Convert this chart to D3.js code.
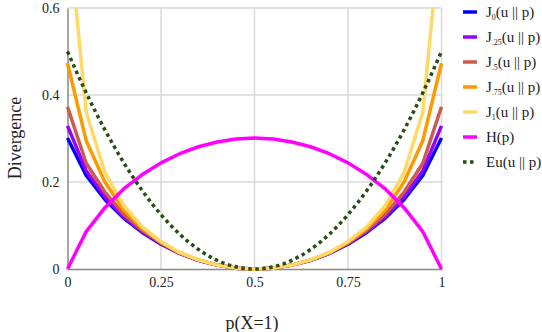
<!DOCTYPE html>
<html>
<head>
<meta charset="utf-8">
<script src="https://cdn.jsdelivr.net/npm/d3@7"></script>
<style>
  html, body { margin: 0; padding: 0; background: #fff; }
  svg { display: block; }
  text { font-family: "Liberation Serif", "Times New Roman", serif; fill: #222; }
</style>
</head>
<body>
<svg id="chart" width="542" height="332"></svg>
<script>
// ---- data ----
const pValues = [0,0.05,0.1,0.15,0.2,0.25,0.3,0.35,0.4,0.45,0.5,0.55,0.6,0.65,0.7,0.75,0.8,0.85,0.9,0.95,1];
const J0  = [0.301,0.215,0.160,0.117,0.084,0.057,0.036,0.020,0.009,0.002,0,0.002,0.009,0.020,0.036,0.057,0.084,0.117,0.160,0.215,0.301];
const J25 = [0.329,0.226,0.166,0.120,0.086,0.058,0.036,0.020,0.009,0.002,0,0.002,0.009,0.020,0.036,0.058,0.086,0.120,0.166,0.226,0.329];
const J5  = [0.373,0.243,0.177,0.126,0.089,0.060,0.037,0.020,0.009,0.002,0,0.002,0.009,0.020,0.037,0.060,0.089,0.126,0.177,0.243,0.373];
const J75 = [0.473,0.295,0.200,0.136,0.093,0.061,0.037,0.021,0.009,0.002,0,0.002,0.009,0.021,0.037,0.061,0.093,0.136,0.200,0.295,0.473];
const J1  = [0.800,0.361,0.222,0.146,0.097,0.063,0.038,0.021,0.009,0.002,0,0.002,0.009,0.021,0.038,0.063,0.097,0.146,0.222,0.361,0.800];
const H   = [0,0.086,0.141,0.184,0.217,0.244,0.265,0.281,0.292,0.299,0.301,0.299,0.292,0.281,0.265,0.244,0.217,0.184,0.141,0.086,0];
const Eu  = [0.5,0.405,0.32,0.245,0.18,0.125,0.08,0.045,0.02,0.005,0,0.005,0.02,0.045,0.08,0.125,0.18,0.245,0.32,0.405,0.5];
const xTicks = [0,0.25,0.5,0.75,1];
const xTickLabels = ["0","0.25","0.5","0.75","1"];
const yTicks = [0,0.2,0.4,0.6];
const yTickLabels = ["0","0.2","0.4","0.6"];
const seriesNames = ["J0","J25","J5","J75","J1","H","Eu"];
const legendSubs = ["0",".25",".5",".75","1"];
const xTitle = "p(X=1)";
const yTitle = "Divergence";

const seriesData = [J0,J25,J5,J75,J1,H,Eu];
const colors = ["#0000ff","#9900ff","#cc5a4f","#ff9900","#ffd966","#ff00ff","#274e13"];

const SERIF = '"Liberation Serif", "Times New Roman", serif';

// ---- layout ----
const svg = d3.select("#chart");
const m = {left: 67.5, right: 441.5, top: 8, bottom: 269};
const x = d3.scaleLinear().domain([0,1]).range([m.left, m.right]);
const y = d3.scaleLinear().domain([0,0.6]).range([m.bottom, m.top]);

// grid
const grid = svg.append("g");
grid.selectAll("line.vx").data(xTicks.slice(1)).enter().append("line")
  .attr("x1", d => x(d)).attr("x2", d => x(d))
  .attr("y1", y(0)).attr("y2", y(0.6))
  .attr("stroke", "#d9d9d9").attr("stroke-width", 1.5);
grid.selectAll("line.hy").data(yTicks.slice(1)).enter().append("line")
  .attr("x1", x(0)).attr("x2", x(1))
  .attr("y1", d => y(d)).attr("y2", d => y(d))
  .attr("stroke", "#d9d9d9").attr("stroke-width", 1.5);

// axes
const xAxis = d3.axisBottom(x).tickValues(xTicks).tickFormat((d,i) => xTickLabels[i]).tickSize(0).tickPadding(8);
const yAxis = d3.axisLeft(y).tickValues(yTicks).tickFormat((d,i) => yTickLabels[i]).tickSize(0).tickPadding(8);
const gx = svg.append("g").attr("transform", `translate(0,${y(0)})`).call(xAxis);
const gy = svg.append("g").attr("transform", `translate(${x(0)},0)`).call(yAxis);
[gx, gy].forEach(g => {
  g.attr("font-family", SERIF).attr("font-size", 14);
  g.select(".domain").attr("stroke", "#888").attr("stroke-width", 1.5);
  g.selectAll("text").style("font-family", SERIF).style("font-size", "14px").attr("fill", "#222");
});

// clip
svg.append("clipPath").attr("id", "plotclip").append("rect")
  .attr("x", m.left - 3).attr("y", m.top).attr("width", m.right - m.left + 6).attr("height", m.bottom - m.top + 3);

const line = d3.line().x((d,i) => x(pValues[i])).y(d => y(d));
const plot = svg.append("g").attr("clip-path", "url(#plotclip)");
seriesData.forEach((s, k) => {
  const p = plot.append("path").datum(s)
    .attr("d", line)
    .attr("fill", "none")
    .attr("stroke", colors[k])
    .attr("stroke-width", 3.5)
    .attr("stroke-linejoin", "round");
  if (k === 6) {
    p.attr("d", d3.line().curve(d3.curveMonotoneX).x((d,i) => x(pValues[i])).y(d => y(d)))
     .attr("stroke-dasharray", "3.5,3.5");
  }
});

// axis titles
svg.append("text").attr("x", 252).attr("y", 329).attr("text-anchor", "middle")
  .style("font-family", SERIF).style("font-size", "18px").text(xTitle);
svg.append("text").attr("transform", "translate(21,138) rotate(-90)").attr("text-anchor", "middle")
  .style("font-family", SERIF).style("font-size", "18px").text(yTitle);

// legend
const lg = svg.append("g");
seriesNames.forEach((name, k) => {
  const yy = 12 + k * 25;
  lg.append("line").attr("x1", 463).attr("x2", 477).attr("y1", yy).attr("y2", yy)
    .attr("stroke", colors[k]).attr("stroke-width", 3.5)
    .attr("stroke-dasharray", k === 6 ? "3.5,3.5" : null);
  const t = lg.append("text").attr("x", 486).attr("y", yy + 5)
    .style("font-family", SERIF).style("font-size", "15px");
  if (k < 5) {
    t.append("tspan").text("J");
    t.append("tspan").attr("dy", 3).style("font-size", "8px").text(legendSubs[k]);
    t.append("tspan").attr("dy", -3).text("(u || p)");
  } else if (k === 5) {
    t.text("H(p)");
  } else {
    t.text("Eu(u || p)");
  }
});
</script>
</body>
</html>
